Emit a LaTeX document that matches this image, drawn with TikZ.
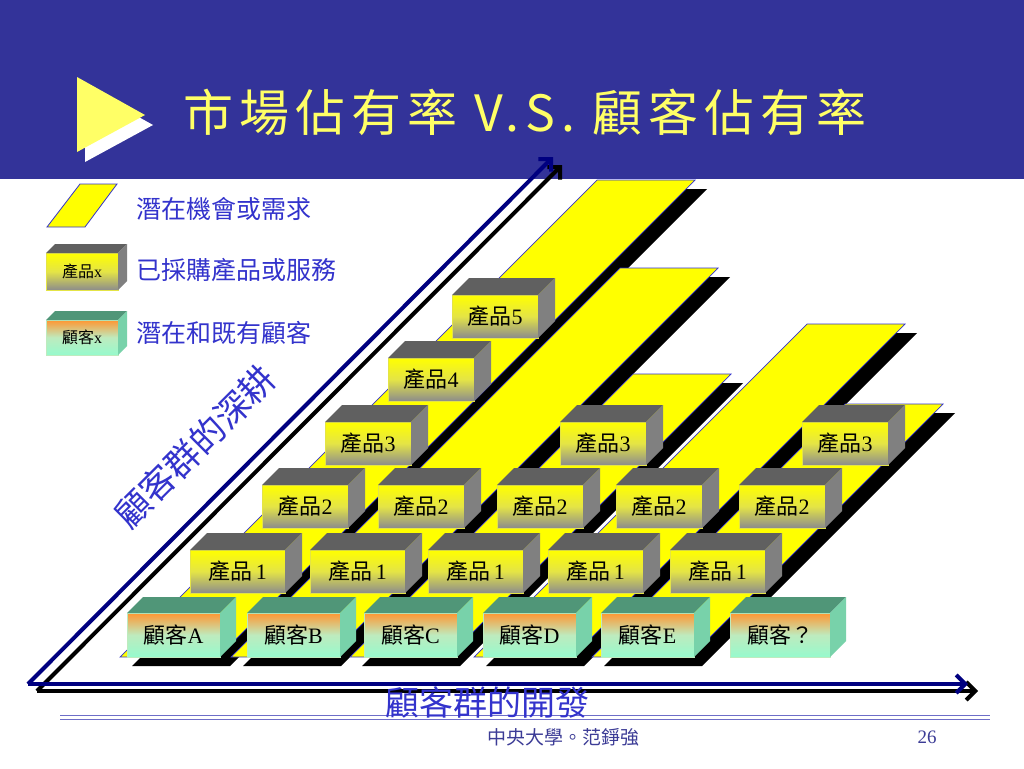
\documentclass[tikz,border=0pt]{standalone}
\usepackage{fontspec}
\setmainfont{Liberation Serif}
\newfontfamily\cjk{Noto Sans CJK TC}
\usetikzlibrary{arrows.meta}
\definecolor{hdr}{RGB}{51,51,153}
\definecolor{ttl}{RGB}{255,255,102}
\definecolor{lbl}{RGB}{51,51,204}
\definecolor{navyc}{RGB}{0,0,128}
\definecolor{ylw}{RGB}{255,255,0}
\definecolor{ptopc}{RGB}{96,96,96}
\definecolor{psidec}{RGB}{128,128,128}
\definecolor{pbot}{RGB}{140,140,140}
\definecolor{pmid}{RGB}{228,228,70}
\definecolor{ctopc}{RGB}{80,150,120}
\definecolor{csidec}{RGB}{120,210,170}
\definecolor{corange}{RGB}{255,150,50}
\definecolor{cmid}{RGB}{190,235,190}
\definecolor{caqua}{RGB}{150,250,205}
\definecolor{footl}{RGB}{110,110,200}
\definecolor{foott}{RGB}{60,60,150}
\newcommand\zh[1]{{\cjk #1}}
\newcommand\mybox[8]{%
  \node[#2front, minimum width=#5pt, minimum height=#6pt, anchor=north west] (#1) at (#3,#4) {#8};
  \fill[#2topc] (#1.north west) -- ++(#7,-#7) -- ++(#5,0) -- (#1.north east) -- cycle;
  \fill[#2sidec] (#1.north east) -- ++(#7,-#7) -- ++(0,#6) -- (#1.south east) -- cycle;
}
\newcommand\stripe[2]{%
  \fill[black, shift={(12,9)}] (#1,657) -- (#1+98,657) -- ({#1+98+657-#2},#2) -- ({#1+657-#2},#2) -- cycle;
  \filldraw[fill=ylw, draw=lbl, line width=0.7pt] (#1,657) -- (#1+98,657) -- ({#1+98+657-#2},#2) -- ({#1+657-#2},#2) -- cycle;
}
\tikzset{
  pfront/.style={rectangle, inner sep=0pt, outer sep=0pt, top color=ylw, bottom color=pbot, middle color=pmid, draw=pmid, line width=0.5pt, font=\fontsize{22}{22}\selectfont},
  cfront/.style={rectangle, inner sep=0pt, outer sep=0pt, top color=corange, bottom color=caqua, middle color=cmid, draw=cmid, line width=0.5pt, font=\fontsize{22}{22}\selectfont},
  lpfront/.style={pfront, font=\fontsize{16}{16}\selectfont},
  lcfront/.style={cfront, font=\fontsize{16}{16}\selectfont},
  lptopc/.style={ptopc}, lpsidec/.style={psidec},
  lctopc/.style={ctopc}, lcsidec/.style={csidec},
  legtext/.style={anchor=west, text=lbl, inner sep=0pt, font=\fontsize{25}{25}\selectfont\cjk},
  axisb/.style={draw=navyc, line width=4pt, -{Straight Barb[length=9pt,width=18pt]}},
  axisk/.style={draw=black, line width=4pt, -{Straight Barb[length=9pt,width=18pt]}},
}
\begin{document}
\begin{tikzpicture}[x=1pt,y=-1pt]
\useasboundingbox (0,0) rectangle (1024,768);
\fill[white] (0,0) rectangle (1024,768);
% header
\fill[hdr] (0,0) rectangle (1024,179);
\fill[white] (85,87) -- (85,162) -- (153,125) -- cycle;
\fill[ttl] (77,77) -- (77,152) -- (145,115) -- cycle;
\node[text=ttl, inner sep=0pt] (title) at (525,112) {\fontsize{50}{50}\selectfont\cjk\addfontfeature{LetterSpace=12}市場佔有率 V.S. 顧客佔有率};
% stripes (potential demand)
\stripe{120}{180}
\stripe{231}{268}
\stripe{350}{374}
\stripe{474}{324}
\stripe{592}{404}
% row 5, 4, 3
\mybox{p5a}{p}{452}{295}{86}{43}{17}{\zh{產品}5}
\mybox{p4a}{p}{388}{358}{86}{43}{17}{\zh{產品}4}
\mybox{p3a}{p}{325}{422}{86}{43}{17}{\zh{產品}3}
\mybox{p3c}{p}{560}{422}{86}{43}{17}{\zh{產品}3}
\mybox{p3e}{p}{802}{422}{86}{43}{17}{\zh{產品}3}
% row 2
\mybox{p2a}{p}{262}{485}{86}{43}{17}{\zh{產品}2}
\mybox{p2b}{p}{378}{485}{86}{43}{17}{\zh{產品}2}
\mybox{p2c}{p}{497}{485}{86}{43}{17}{\zh{產品}2}
\mybox{p2d}{p}{616}{485}{86}{43}{17}{\zh{產品}2}
\mybox{p2e}{p}{739}{485}{86}{43}{17}{\zh{產品}2}
% row 1
\mybox{p1a}{p}{190}{550}{95}{43}{17}{\zh{產品}\,1}
\mybox{p1b}{p}{310}{550}{95}{43}{17}{\zh{產品}\,1}
\mybox{p1c}{p}{428}{550}{95}{43}{17}{\zh{產品}\,1}
\mybox{p1d}{p}{548}{550}{95}{43}{17}{\zh{產品}\,1}
\mybox{p1e}{p}{670}{550}{95}{43}{17}{\zh{產品}\,1}
% customers
\mybox{ca}{c}{127}{613}{93}{44}{16}{\zh{顧客}A}
\mybox{cb}{c}{247}{613}{93}{44}{16}{\zh{顧客}B}
\mybox{cc}{c}{364}{613}{93}{44}{16}{\zh{顧客}C}
\mybox{cd}{c}{483}{613}{93}{44}{16}{\zh{顧客}D}
\mybox{ce}{c}{601}{613}{93}{44}{16}{\zh{顧客}E}
\mybox{cq}{c}{730}{613}{100}{44}{16}{\zh{顧客？}}
% axes
\coordinate (ob) at (28,684);
\coordinate (hb) at (968,684);
\coordinate (db) at (553,157);
\coordinate (ok) at (37,691);
\coordinate (hk) at (978,691);
\coordinate (dk) at (562,165);
\draw[axisk] (ok) -- (hk);
\draw[axisk] (ok) -- (dk);
\draw[axisb] (ob) -- (hb);
\draw[axisb] (ob) -- (db);
% legend
\filldraw[fill=ylw, draw=lbl, line width=0.8pt] (47,227) -- (85,227) -- (117,184) -- (80,184) -- cycle;
\node[legtext] (l1) at (136,209) {潛在機會或需求};
\mybox{lg1}{lp}{46}{253}{72}{37}{9}{\zh{產品}x}
\node[legtext] (l2) at (136,270) {已採購產品或服務};
\mybox{lg2}{lc}{46}{320}{72}{35}{9}{\zh{顧客}x}
\node[legtext] (l3) at (136,333) {潛在和既有顧客};
% footer
\draw[footl, line width=1.2pt] (60,715.5) -- (990,715.5);
\draw[footl, line width=1.2pt] (60,719.5) -- (990,719.5);
\node[text=lbl, inner sep=0pt, font=\fontsize{34}{34}\selectfont\cjk] (xlab) at (487,702) {顧客群的開發};
\node[text=lbl, inner sep=0pt, rotate=45, font=\fontsize{35}{35}\selectfont\cjk] (ylab) at (195,447) {顧客群的深耕};
\node[text=foott, inner sep=0pt, font=\fontsize{19}{19}\selectfont\cjk] (foot) at (563,737) {中央大學。范錚強};
\node[text=foott, inner sep=0pt, font=\fontsize{19}{19}\selectfont] (pg) at (927,737) {26};
\end{tikzpicture}
\end{document}
